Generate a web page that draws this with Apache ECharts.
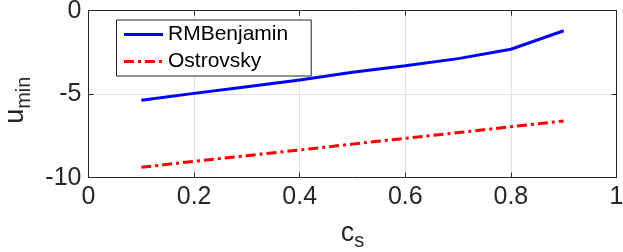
<!DOCTYPE html>
<html>
<head>
<meta charset="utf-8">
<script src="https://cdn.jsdelivr.net/npm/echarts@6/dist/echarts.min.js"></script>
<style>
html,body{margin:0;padding:0;background:#fff;}
#chart{width:623px;height:252px;}
</style>
</head>
<body>
<div id="chart"></div>
<script>
var cs = [0.1, 0.2, 0.3, 0.4, 0.5, 0.6, 0.7, 0.8, 0.9];
var rmBenjamin = [-5.36, -4.95, -4.55, -4.15, -3.69, -3.29, -2.87, -2.31, -1.20];
var ostrovsky = [-9.38, -9.02, -8.68, -8.34, -7.99, -7.64, -7.30, -6.95, -6.60];
var seriesNames = ['RMBenjamin', 'Ostrovsky'];

var FONT = '"Liberation Sans", Arial, Helvetica, sans-serif';
var AX = '#262626';
function pairs(xs, ys){ return xs.map(function(x,i){ return [x, ys[i]]; }); }

var chart = echarts.init(document.getElementById('chart'), null, {renderer:'canvas'});
chart.setOption({
  animation: false,
  grid: {left: 88.5, right: 6.5, top: 10.7, bottom: 74.3, containLabel: false, outerBoundsMode: 'none'},
  legend: {
    orient: 'vertical', left: 116.5, top: 20,
    backgroundColor: '#fff', borderColor: AX, borderWidth: 1, borderRadius: 0,
    padding: [4, 23, 4, 6], itemWidth: 39, itemHeight: 14, itemGap: 6,
    itemStyle: {opacity: 0},
    lineStyle: {width: 3},
    textStyle: {fontFamily: FONT, fontSize: 21, color: '#000'},
    data: seriesNames
  },
  xAxis: [{
    type: 'value', min: 0, max: 1, interval: 0.2, position: 'bottom',
    axisLine: {show: true, onZero: false, lineStyle: {color: AX, width: 1}},
    axisTick: {show: true, inside: true, length: 5, lineStyle: {color: AX}},
    axisLabel: {fontFamily: FONT, fontSize: 25, color: AX, margin: 7,
      formatter: function(v){ return String(+v.toFixed(1)); }},
    splitLine: {show: true, lineStyle: {color: '#e3e3e3', width: 1}},
    name: '{a|c}{b|s}', nameLocation: 'middle', nameGap: 42,
    nameTextStyle: {fontFamily: FONT, color: AX,
      rich: {a: {fontFamily: FONT, fontSize: 27, color: AX, lineHeight: 28, verticalAlign: 'top'},
             b: {fontFamily: FONT, fontSize: 20, color: AX, lineHeight: 20, padding: [12,0,0,0], verticalAlign: 'top'}}}
  }, {
    type: 'value', min: 0, max: 1, interval: 0.2, position: 'top',
    axisLine: {show: true, onZero: false, lineStyle: {color: AX, width: 1}},
    axisTick: {show: true, inside: true, length: 5, lineStyle: {color: AX}},
    axisLabel: {show: false}, splitLine: {show: false}
  }],
  yAxis: [{
    type: 'value', min: -10, max: 0, interval: 5, position: 'left',
    axisLine: {show: true, onZero: false, lineStyle: {color: AX, width: 1}},
    axisTick: {show: true, inside: true, length: 5, lineStyle: {color: AX}},
    axisLabel: {fontFamily: FONT, fontSize: 25, color: AX, margin: 7},
    splitLine: {show: true, lineStyle: {color: '#e3e3e3', width: 1}},
    name: '{a|u}{b|min}', nameLocation: 'middle', nameGap: 58, nameRotate: 90,
    nameTextStyle: {fontFamily: FONT, color: AX, padding: [0, 12, 0, 0],
      rich: {a: {fontFamily: FONT, fontSize: 27, color: AX, lineHeight: 28, verticalAlign: 'top'},
             b: {fontFamily: FONT, fontSize: 20, color: AX, lineHeight: 20, padding: [12,0,0,0], verticalAlign: 'top'}}}
  }, {
    type: 'value', min: -10, max: 0, interval: 5, position: 'right',
    axisLine: {show: true, onZero: false, lineStyle: {color: AX, width: 1}},
    axisTick: {show: true, inside: true, length: 5, lineStyle: {color: AX}},
    axisLabel: {show: false}, splitLine: {show: false}
  }],
  series: [{
    name: seriesNames[0], type: 'line', xAxisIndex: 0, yAxisIndex: 0,
    data: pairs(cs, rmBenjamin), showSymbol: false, symbol: 'none',
    lineStyle: {color: '#0000ff', width: 3, type: 'solid'},
    itemStyle: {color: '#0000ff'}
  }, {
    name: seriesNames[1], type: 'line', xAxisIndex: 0, yAxisIndex: 0,
    data: pairs(cs, ostrovsky), showSymbol: false, symbol: 'none',
    lineStyle: {color: '#ff0000', width: 3, type: [10, 4, 3, 4]},
    itemStyle: {color: '#ff0000'}
  }]
});
</script>
</body>
</html>
